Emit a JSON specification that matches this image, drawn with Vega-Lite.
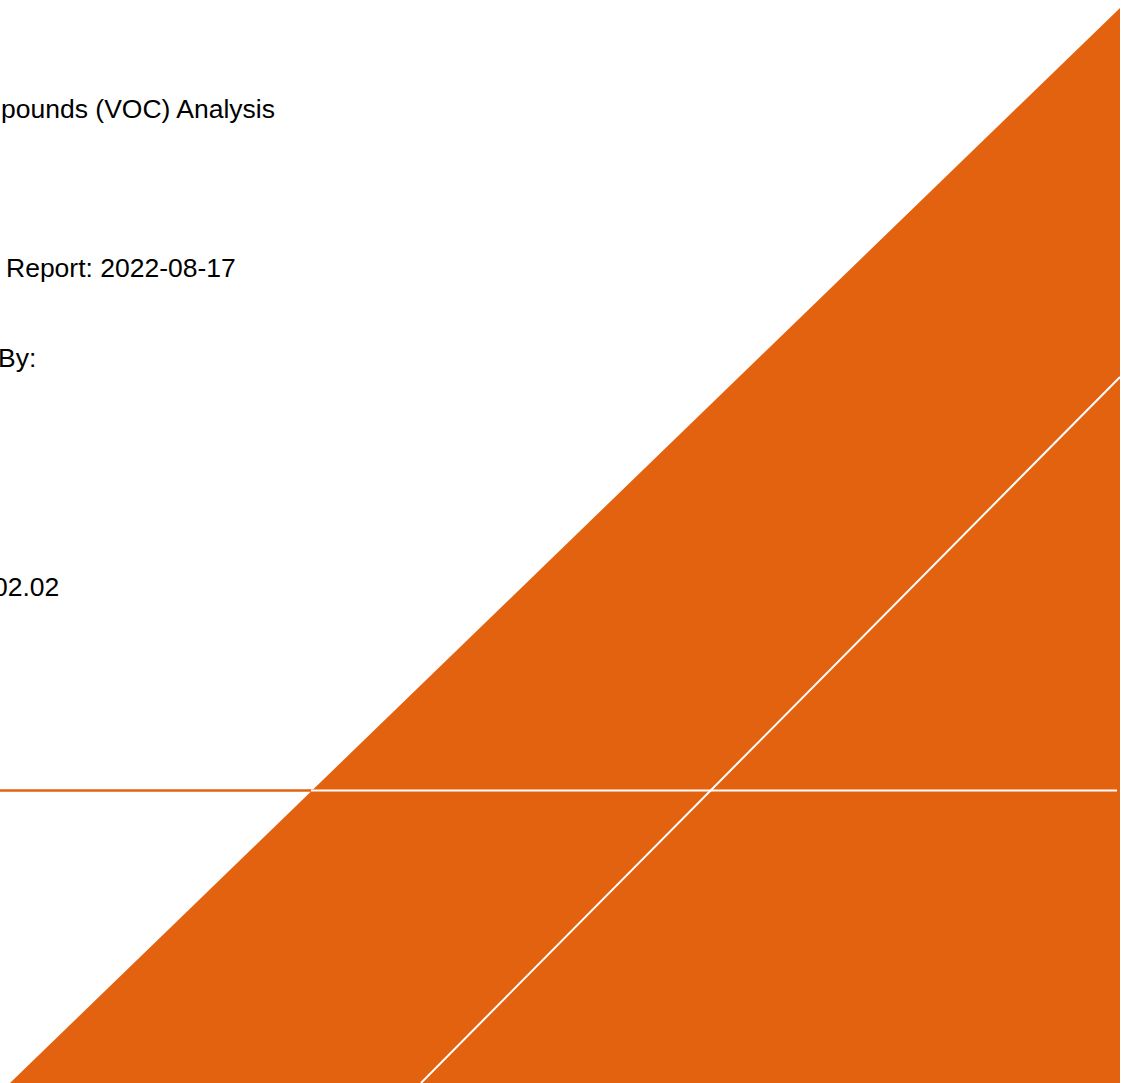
{
  "$schema": "https://vega.github.io/schema/vega-lite/v6.json",
  "width": 1127,
  "height": 1083,
  "autosize": {"type": "fit", "contains": "padding"},
  "padding": 0,
  "background": "white",
  "config": {"view": {"stroke": null}},
  "datasets": {
    "shape": [
      {"x": 10, "y": 1083, "y2": 1083},
      {"x": 1120, "y": 8, "y2": 1083}
    ],
    "hline": [
      {"x": 0, "x2": 1117, "y": 790.5}
    ],
    "hwhite": [
      {"x": 311, "x2": 1117, "y": 790.5}
    ],
    "diag": [
      {"x": 1120, "x2": 421, "y": 377, "y2": 1083}
    ],
    "labels": [
      {"label": "pounds (VOC) Analysis", "x": 1, "y": 118},
      {"label": "Report: 2022-08-17", "x": 6, "y": 277},
      {"label": "By:", "x": -2, "y": 367},
      {"label": "02.02", "x": -7, "y": 596}
    ]
  },
  "layer": [
    {
      "data": {"name": "shape"},
      "mark": {"type": "area", "color": "#E2620F", "clip": true},
      "encoding": {
        "x": {"field": "x", "type": "quantitative", "scale": {"domain": [0, 1127], "nice": false, "zero": false}, "axis": null},
        "y": {"field": "y", "type": "quantitative", "scale": {"domain": [0, 1083], "nice": false, "zero": false, "reverse": true}, "axis": null},
        "y2": {"field": "y2"}
      }
    },
    {
      "data": {"name": "hline"},
      "mark": {"type": "rule", "color": "#E2620F", "strokeWidth": 2.5, "clip": true},
      "encoding": {
        "x": {"field": "x", "type": "quantitative", "axis": null},
        "x2": {"field": "x2"},
        "y": {"field": "y", "type": "quantitative", "axis": null}
      }
    },
    {
      "data": {"name": "hwhite"},
      "mark": {"type": "rule", "color": "#FFFFFF", "strokeWidth": 2, "clip": true},
      "encoding": {
        "x": {"field": "x", "type": "quantitative", "axis": null},
        "x2": {"field": "x2"},
        "y": {"field": "y", "type": "quantitative", "axis": null}
      }
    },
    {
      "data": {"name": "diag"},
      "mark": {"type": "rule", "color": "#FFFFFF", "strokeWidth": 2, "clip": true},
      "encoding": {
        "x": {"field": "x", "type": "quantitative", "axis": null},
        "x2": {"field": "x2"},
        "y": {"field": "y", "type": "quantitative", "axis": null},
        "y2": {"field": "y2"}
      }
    },
    {
      "data": {"name": "labels"},
      "mark": {"type": "text", "align": "left", "baseline": "alphabetic", "font": "Liberation Sans", "fontSize": 26.5, "color": "#000000", "clip": true},
      "encoding": {
        "x": {"field": "x", "type": "quantitative", "axis": null},
        "y": {"field": "y", "type": "quantitative", "axis": null},
        "text": {"field": "label"}
      }
    }
  ]
}
